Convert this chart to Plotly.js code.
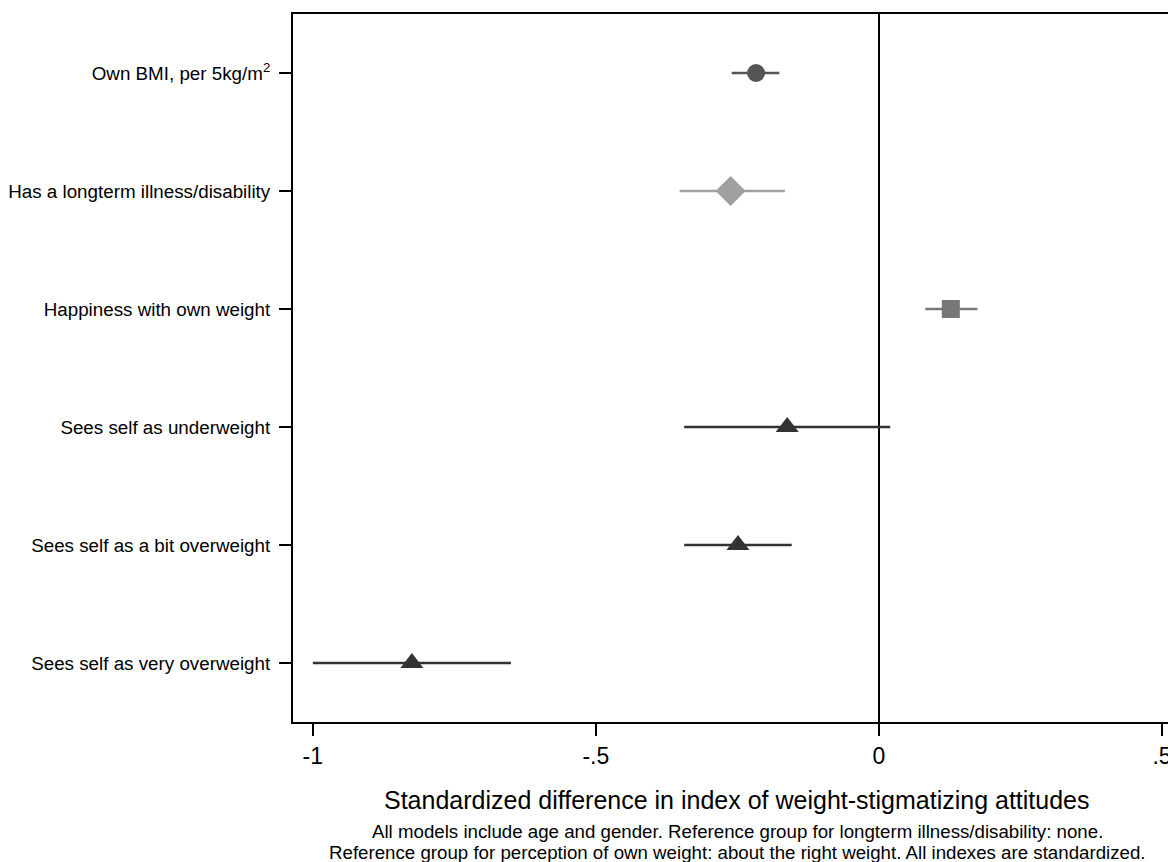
<!DOCTYPE html>
<html>
<head>
<meta charset="utf-8">
<script src="https://cdn.plot.ly/plotly-3.0.1.min.js"></script>
<style>html,body{margin:0;padding:0;overflow:hidden;background:#fff;}#chart{width:1200px;height:862px;}</style>
</head>
<body>
<div id="chart"></div>
<script>
const categories = [
  "Own BMI, per 5kg/m<sup>2</sup>",
  "Has a longterm illness/disability",
  "Happiness with own weight",
  "Sees self as underweight",
  "Sees self as a bit overweight",
  "Sees self as very overweight"
];
const estimates = [-0.217, -0.262, 0.127, -0.162, -0.249, -0.825];
const ciLow =     [-0.260, -0.352, 0.082, -0.344, -0.344, -1.000];
const ciHigh =    [-0.176, -0.166, 0.174, 0.020, -0.154, -0.650];
const symbols = ["circle", "diamond", "square", "triangle-up", "triangle-up", "triangle-up"];
const colors = ["#555555", "#a0a0a0", "#777777", "#333333", "#333333", "#333333"];
const sizes = [18, 23, 18, 20, 20, 20];
const xTickVals = [-1, -0.5, 0, 0.5];
const xTickText = ["-1", "-.5", "0", ".5"];

const traces = categories.map((c, i) => ({
  type: "scatter",
  mode: "markers",
  x: [estimates[i]],
  y: [c],
  marker: {symbol: symbols[i], color: colors[i], size: sizes[i], line: {width: 0}},
  error_x: {
    type: "data", symmetric: false,
    array: [ciHigh[i] - estimates[i]],
    arrayminus: [estimates[i] - ciLow[i]],
    color: colors[i], thickness: 2.5, width: 0
  },
  showlegend: false,
  hoverinfo: "x+y"
}));

const font = "Liberation Sans, Arial, sans-serif";
const layout = {
  width: 1200, height: 862,
  margin: {l: 293, r: 19, t: 14, b: 140},
  paper_bgcolor: "#fff", plot_bgcolor: "#fff",
  font: {family: font, color: "#000"},
  xaxis: {
    range: [-1.035, 0.5336],
    tickvals: xTickVals, ticktext: xTickText,
    ticks: "outside", ticklen: 12, tickwidth: 1.5, tickcolor: "#000",
    tickfont: {size: 23, family: font, color: "#000"},
    showgrid: false,
    zeroline: true, zerolinecolor: "#000", zerolinewidth: 2,
    showline: true, linecolor: "#000", linewidth: 2, mirror: true,
    fixedrange: true
  },
  yaxis: {
    type: "category",
    categoryorder: "array", categoryarray: categories,
    range: [5.5, -0.5],
    ticks: "outside", ticklen: 12, tickwidth: 1.5, tickcolor: "#000",
    ticklabelstandoff: 5,
    tickfont: {size: 18.8, family: font, color: "#000"},
    showgrid: false, zeroline: false,
    showline: true, linecolor: "#000", linewidth: 2, mirror: true,
    fixedrange: true
  },
  annotations: [
    {text: "Standardized difference in index of weight-stigmatizing attitudes",
     xref: "paper", yref: "paper", x: 0.5, y: -0.110, xanchor: "center", yanchor: "middle",
     showarrow: false, font: {size: 25, family: font, color: "#000"}},
    {text: "All models include age and gender. Reference group for longterm illness/disability: none.",
     xref: "paper", yref: "paper", x: 0.5, y: -0.155, xanchor: "center", yanchor: "middle",
     showarrow: false, font: {size: 18.7, family: font, color: "#000"}},
    {text: "Reference group for perception of own weight: about the right weight. All indexes are standardized.",
     xref: "paper", yref: "paper", x: 0.5, y: -0.184, xanchor: "center", yanchor: "middle",
     showarrow: false, font: {size: 18.7, family: font, color: "#000"}}
  ]
};

Plotly.newPlot("chart", traces, layout, {displayModeBar: false, staticPlot: true});
</script>
</body>
</html>
